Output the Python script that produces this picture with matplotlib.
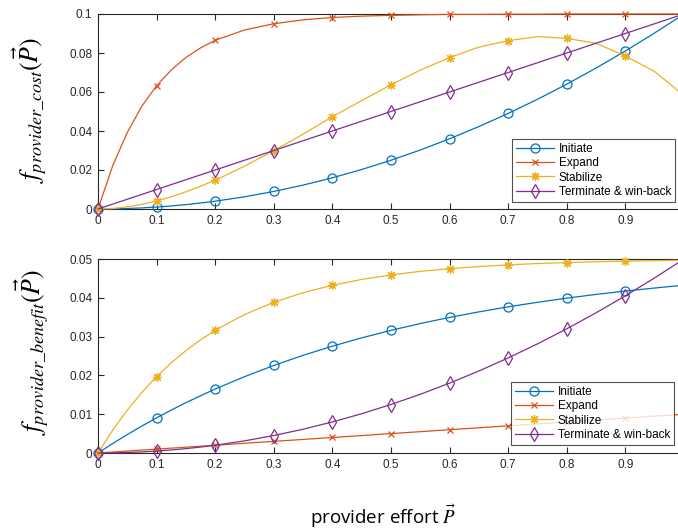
import matplotlib
matplotlib.use("Agg")
import matplotlib.pyplot as plt
from matplotlib.ticker import FuncFormatter

# ---- data ----
x = [0, 0.025, 0.05, 0.075, 0.1, 0.125, 0.15, 0.175, 0.2, 0.25, 0.3, 0.35, 0.4, 0.45, 0.5,
     0.55, 0.6, 0.65, 0.7, 0.75, 0.8, 0.85, 0.9, 0.95, 0.99]

labels = ["Initiate", "Expand", "Stabilize", "Terminate & win-back"]

cost_initiate = [0, 0.0000625, 0.00025, 0.0005625, 0.001, 0.0015625, 0.00225, 0.0030625, 0.004,
                 0.00625, 0.009, 0.01225, 0.016, 0.02025, 0.025,
                 0.03025, 0.036, 0.04225, 0.049, 0.05625, 0.064, 0.07225, 0.081, 0.09025, 0.098]
cost_expand = [0, 0.0221, 0.0393, 0.0528, 0.0632, 0.0713, 0.0777, 0.0826, 0.0865,
               0.0918, 0.0950, 0.0970, 0.0982, 0.0989, 0.0993,
               0.0996, 0.0998, 0.0998, 0.0999, 0.0999, 0.1, 0.1, 0.1, 0.1, 0.1]
cost_stabilize = [0, 0.00028, 0.0011, 0.00237, 0.0041, 0.0063, 0.0088, 0.0117, 0.0147,
                  0.0220, 0.0299, 0.0384, 0.0473, 0.0556, 0.0637,
                  0.0712, 0.0776, 0.0830, 0.0863, 0.0884, 0.0875, 0.0850, 0.0785, 0.0705, 0.0607]
cost_terminate = [0, 0.0025, 0.005, 0.0075, 0.01, 0.0125, 0.015, 0.0175, 0.02,
                  0.025, 0.03, 0.035, 0.04, 0.045, 0.05,
                  0.055, 0.06, 0.065, 0.07, 0.075, 0.08, 0.085, 0.09, 0.095, 0.099]

ben_initiate = [0, 0.00244, 0.00476, 0.00696, 0.00906, 0.01106, 0.01296, 0.01476, 0.01648,
                0.01967, 0.02256, 0.02517, 0.02753, 0.02967, 0.03161,
                0.03336, 0.03494, 0.03637, 0.03767, 0.03884, 0.03991, 0.04087, 0.04174, 0.04252, 0.04310]
ben_expand = [0, 0.00025, 0.0005, 0.00075, 0.001, 0.00125, 0.0015, 0.00175, 0.002,
              0.0025, 0.003, 0.0035, 0.004, 0.0045, 0.005,
              0.0055, 0.006, 0.0065, 0.007, 0.0075, 0.008, 0.0085, 0.009, 0.0095, 0.0099]
ben_stabilize = [0, 0.00588, 0.01106, 0.01563, 0.01967, 0.02324, 0.02638, 0.02916, 0.03161,
                 0.03567, 0.03884, 0.04131, 0.04323, 0.04473, 0.04590,
                 0.04681, 0.04751, 0.04806, 0.04849, 0.04883, 0.04908, 0.04929, 0.04945, 0.04957, 0.04965]
ben_terminate = [0, 0.00003125, 0.000125, 0.00028125, 0.0005, 0.00078125, 0.001125, 0.00153125, 0.002,
                 0.003125, 0.0045, 0.006125, 0.008, 0.010125, 0.0125,
                 0.015125, 0.018, 0.021125, 0.0245, 0.028125, 0.032, 0.036125, 0.0405, 0.045125, 0.049005]

xticks = [0, 0.1, 0.2, 0.3, 0.4, 0.5, 0.6, 0.7, 0.8, 0.9]
cost_yticks = [0, 0.02, 0.04, 0.06, 0.08, 0.1]
ben_yticks = [0, 0.01, 0.02, 0.03, 0.04, 0.05]

colors = ["#0072BD", "#D95319", "#EDB120", "#7E2F8E"]
markers = ["o", "x", (8, 2, 0), "d"]
msizes = [6.5, 5, 6.5, 7.5]

plt.rcParams['font.family'] = ['Liberation Sans', 'DejaVu Sans']
plt.rcParams['mathtext.fontset'] = 'stix'

W, H = 678, 531
fig = plt.figure(figsize=(W / 100, H / 100), dpi=100)

def box(l, t, r, b):
    return [l / W, 1 - b / H, (r - l) / W, (b - t) / H]

ax1 = fig.add_axes(box(98, 14, 678, 209))
ax2 = fig.add_axes(box(98, 259, 678, 453))

fmt = FuncFormatter(lambda v, p: "%g" % round(v, 4))
mark_idx = [x.index(v) for v in xticks]

def style(ax, yticks, ymax, series, legloc):
    for s, c, m, ms, lab in zip(series, colors, markers, msizes, labels):
        ax.plot(x, s, color=c, lw=0.9, marker=m, ms=ms, mfc='none', mec=c, mew=0.9,
                markevery=mark_idx, label=lab, clip_on=False, zorder=3)
    ax.set_xlim(0, 0.99)
    ax.set_ylim(0, ymax)
    ax.set_xticks(xticks)
    ax.set_yticks(yticks)
    ax.xaxis.set_major_formatter(fmt)
    ax.yaxis.set_major_formatter(fmt)
    ax.tick_params(direction='in', length=4, width=0.8, colors='#262626', labelsize=8.5,
                   top=True, right=False, pad=4)
    for sp in ['left', 'bottom', 'top']:
        ax.spines[sp].set_color('#262626')
        ax.spines[sp].set_linewidth(0.8)
    ax.spines['right'].set_visible(False)
    leg = ax.legend(loc='lower left', bbox_to_anchor=legloc, fontsize=8.5, frameon=True,
                    fancybox=False, edgecolor='#262626', handlelength=3.2, handletextpad=0.4,
                    borderpad=0.35, labelspacing=0.2, borderaxespad=0)
    leg.get_frame().set_linewidth(0.8)
    leg.set_zorder(5)

style(ax1, cost_yticks, 0.1, [cost_initiate, cost_expand, cost_stabilize, cost_terminate],
      ((512 - 98) / 580, (209 - 202) / 195))
style(ax2, ben_yticks, 0.05, [ben_initiate, ben_expand, ben_stabilize, ben_terminate],
      ((511 - 98) / 580, (453 - 445) / 194))

fig.text(30 / W, 1 - 110 / H, r"$f_{provider\_cost}(\vec{P})$", rotation=90,
         ha='center', va='center', fontsize=18.5)
fig.text(32 / W, 1 - 352 / H, r"$f_{provider\_benefit}(\vec{P})$", rotation=90,
         ha='center', va='center', fontsize=18.5)
fig.text(383 / W, 1 - 516 / H, r"provider effort $\vec{P}$", ha='center', va='center',
         fontsize=13.5, family=['Open Sans', 'DejaVu Sans'])

fig.savefig("out.png", dpi=100)
